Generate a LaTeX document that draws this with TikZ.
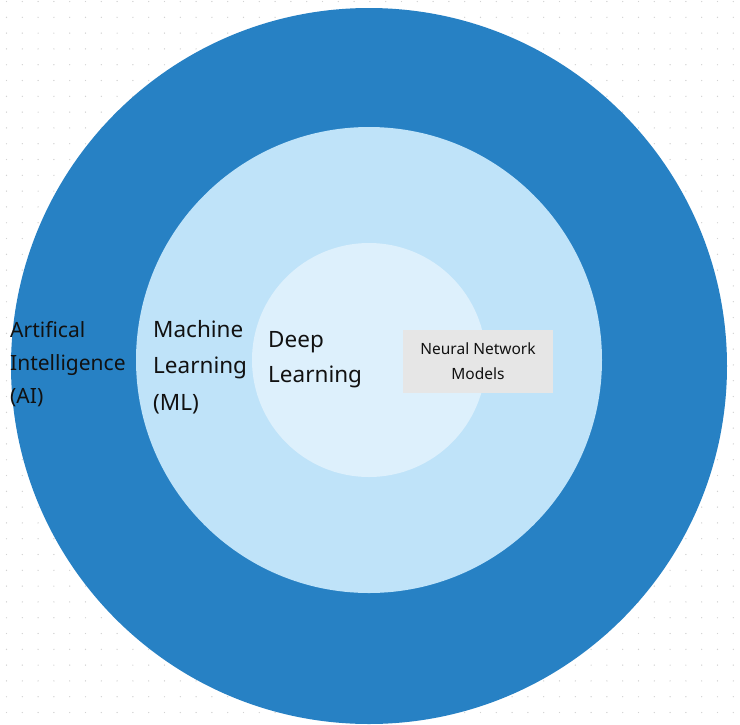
\documentclass[tikz,border=0pt]{standalone}
\usepackage{fontspec}
\setmainfont{Noto Sans}
\definecolor{outerc}{HTML}{2781C4}
\definecolor{midc}{HTML}{BFE3F9}
\definecolor{innc}{HTML}{DDF0FC}
\definecolor{boxc}{HTML}{E6E6E6}
\definecolor{txt}{HTML}{111111}
\begin{document}
\begin{tikzpicture}[x=1pt,y=-1pt,
  lbl/.style={anchor=north west,align=left,text=txt,inner sep=0pt},
  circ/.style={circle,draw=none,inner sep=0pt}]
\useasboundingbox (0,0) rectangle (740,724);
\fill[white] (0,0) rectangle (740,724);
\foreach \i in {0,...,46}{\foreach \j in {0,...,45}{
  \fill[gray!35] ({6.5+\i*15.8},{1.5+\j*15.8}) circle (0.7);}}
\node[circ,fill=outerc,minimum size=716] (ai) at (369,366) {};
\node[circ,fill=midc,minimum size=466] (ml) at (369,360) {};
\node[circ,fill=innc,minimum size=234] (dl) at (369,360) {};
\node[fill=boxc,minimum width=150,minimum height=63,inner sep=0pt,font=\fontsize{15.5}{25}\selectfont,align=center,text=txt] (nn) at (478,361.5) {Neural Network\\Models};
\node[lbl,font=\fontsize{21}{33}\selectfont] (ait) at (10,321) {Artifical\\Intelligence\\(AI)};
\node[lbl,font=\fontsize{22.5}{36.5}\selectfont] (mlt) at (153,320) {Machine\\Learning\\(ML)};
\node[lbl,font=\fontsize{22.5}{35}\selectfont] (dlt) at (268,331) {Deep\\Learning};
\end{tikzpicture}
\end{document}
